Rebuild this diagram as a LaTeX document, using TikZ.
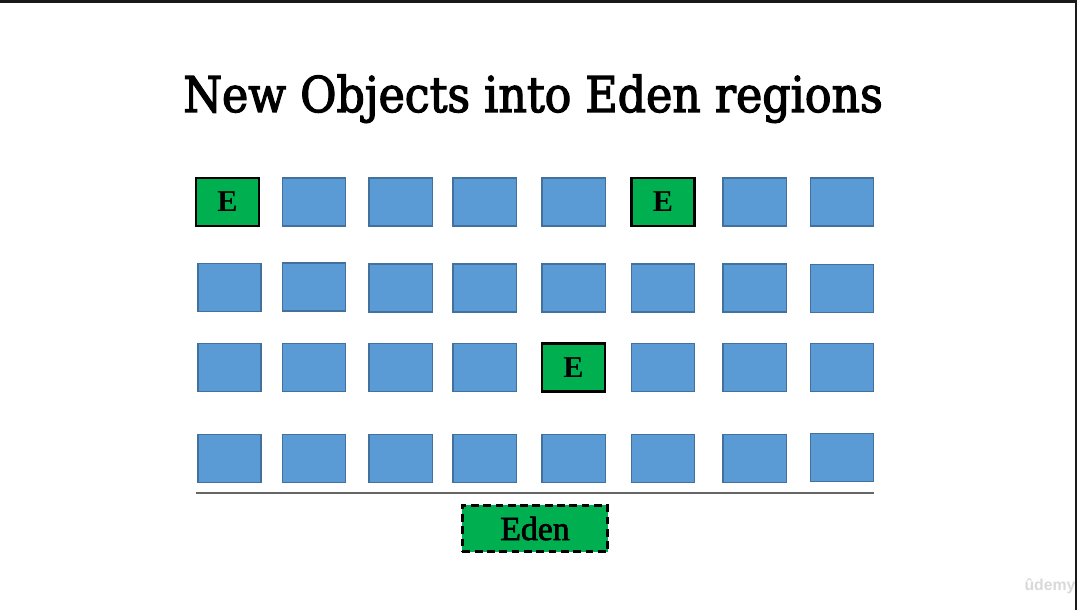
\documentclass[tikz,border=0pt]{standalone}
\usepackage{fontspec}
\setmainfont{Liberation Serif}
\newfontfamily\titlefont[FakeBold=2.5]{DejaVu Serif Condensed}
\newfontfamily\edenfont[FakeBold=2]{Liberation Serif}
\newfontfamily\markfont{Liberation Sans}
\usetikzlibrary{positioning}
\definecolor{regionBlue}{RGB}{91, 155, 213}
\definecolor{regionEdge}{RGB}{65, 113, 156}
\definecolor{edenGreen}{RGB}{0, 176, 80}
\definecolor{frameDark}{RGB}{26, 26, 28}
\tikzset{
    % Base style for all heap regions
    region/.style={
        rectangle,
        minimum width=0.63cm,
        minimum height=0.48cm,
        inner sep=0pt,
        fill=regionBlue,
        draw=regionEdge,
        line width=0.3pt
    },
    % Specific styles
    edenRegion/.style={region, fill=edenGreen, draw=black, line width=0.75pt,
        font=\fontsize{8.6}{10}\selectfont\bfseries},
    edenLegend/.style={region, fill=edenGreen, draw=black, line width=0.7pt,
        dash pattern=on 2.2pt off 1.3pt,
        minimum width=1.45cm, minimum height=0.46cm, font=\edenfont\fontsize{9.6}{11}\selectfont},
    titleText/.style={font=\titlefont\fontsize{14}{16}\selectfont, anchor=base}
}
\begin{document}
\begin{tikzpicture}[x=0.01cm, y=-0.01cm]

    % --- Page frame ---
    \useasboundingbox (0,0) rectangle (1077,610);
    \fill [white] (0,0) rectangle (1077,610);
    \fill [frameDark] (0,0) rectangle (1077,3);
    \fill [frameDark] (1074.5,0) rectangle (1077,610);

    % --- Title ---
    \node (title) [titleText] at (533,112) {New Objects into Eden regions};

    % --- Row 1 ---
    \node (r11) [edenRegion] at (227.5,202) {E};
    \node (r12) [region] at (314,202) {};
    \node (r13) [region] at (400.5,202) {};
    \node (r14) [region] at (484.5,202) {};
    \node (r15) [region] at (573.5,202) {};
    \node (r16) [edenRegion] at (663,202) {E};
    \node (r17) [region] at (754.5,202) {};
    \node (r18) [region] at (842,202) {};

    % --- Row 2 ---
    \node (r21) [region] at (229.5,287.5) {};
    \node (r22) [region] at (314,287) {};
    \node (r23) [region] at (400.5,288) {};
    \node (r24) [region] at (484.5,288) {};
    \node (r25) [region] at (573.5,288) {};
    \node (r26) [region] at (663,288) {};
    \node (r27) [region] at (754.5,288) {};
    \node (r28) [region] at (842,288.5) {};

    % --- Row 3 ---
    \node (r31) [region] at (229.5,367.5) {};
    \node (r32) [region] at (314,367.5) {};
    \node (r33) [region] at (400.5,367.5) {};
    \node (r34) [region] at (484.5,367.5) {};
    \node (r35) [edenRegion] at (573.5,367.5) {E};
    \node (r36) [region] at (663,367.5) {};
    \node (r37) [region] at (754.5,367.5) {};
    \node (r38) [region] at (842,367.5) {};

    % --- Row 4 ---
    \node (r41) [region] at (229.5,458.5) {};
    \node (r42) [region] at (314,458.5) {};
    \node (r43) [region] at (400.5,458.5) {};
    \node (r44) [region] at (484.5,458.5) {};
    \node (r45) [region] at (573.5,458.5) {};
    \node (r46) [region] at (663,458.5) {};
    \node (r47) [region] at (754.5,458.5) {};
    \node (r48) [region] at (842,457.5) {};

    % --- Separator and legend ---
    \coordinate (lineL) at (196,493);
    \coordinate (lineR) at (874,493);
    \draw [gray!80!black, line width=0.35pt] (lineL) -- (lineR);
    \node (legend) [edenLegend] at (535,528.5) {Eden};

    % --- Watermark ---
    \node (mark) [font=\markfont\bfseries\fontsize{4.5}{5}\selectfont, text=gray!30] at (1050,586) {ûdemy};

\end{tikzpicture}
\end{document}
